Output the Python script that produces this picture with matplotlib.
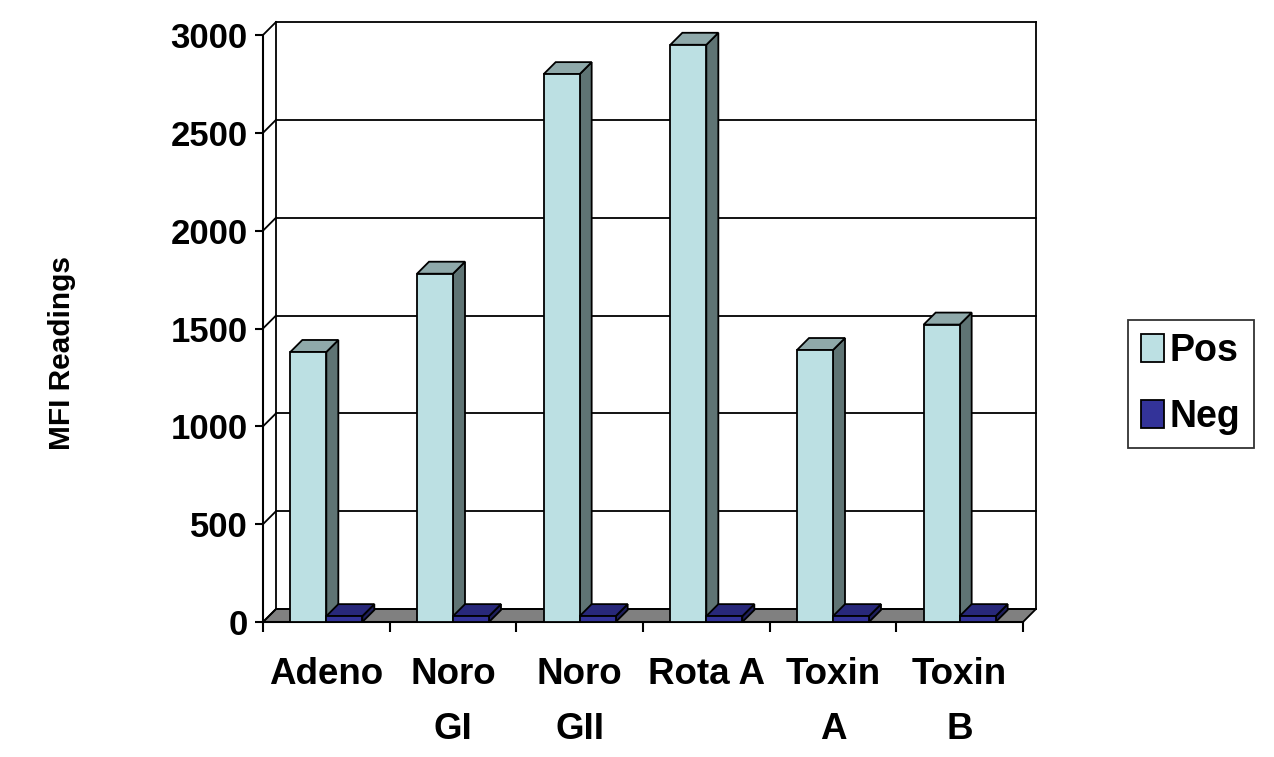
import numpy as np
import matplotlib
matplotlib.use('Agg')
import matplotlib.pyplot as plt
from matplotlib.patches import Polygon, Patch

plt.rcParams['font.family'] = ['Liberation Sans', 'DejaVu Sans']
plt.rcParams['font.weight'] = 'bold'

categories = ['Adeno', 'Noro\nGI', 'Noro\nGII', 'Rota A', 'Toxin\nA', 'Toxin\nB']
pos = [1380, 1780, 2800, 2950, 1390, 1520]
neg = [30, 30, 30, 30, 30, 30]
yticks = [0, 500, 1000, 1500, 2000, 2500, 3000]

pos_colors = ('#bce0e3', '#8fa9aa', '#5f7474')   # front, top, side
neg_colors = ('#333399', '#28287a', '#1e1e5c')
floor_color = '#808080'

W, H = 1274, 757
fig = plt.figure(figsize=(W / 100, H / 100), dpi=100)
# front plane of the plot in pixels
left, right, bottom, top = 263, 1023, 622, 35
ax = fig.add_axes([left / W, 1 - bottom / H, (right - left) / W, (bottom - top) / H])
ax.set_xlim(-0.5, 5.5)
ax.set_ylim(0, 3000)

px_x = (right - left) / 6.0       # pixels per category
px_y = (bottom - top) / 3000.0    # pixels per unit
DX, DY = 13 / px_x, 13 / px_y     # wall depth
BX, BY = 12 / px_x, 12 / px_y     # bar depth
bw = 36 / px_x

ax.spines['top'].set_visible(False)
ax.spines['right'].set_visible(False)
for s in ('left', 'bottom'):
    ax.spines[s].set_linewidth(1.5)
ax.set_yticks(yticks)
ax.set_yticklabels([str(t) for t in yticks], fontsize=25, fontweight='bold')
ax.tick_params(axis='y', direction='out', length=6, width=1.5, pad=5)
ax.set_xticks(np.arange(-0.5, 6, 1.0))
ax.set_xticklabels([])
ax.tick_params(axis='x', direction='out', length=7, width=1.5)

kw = dict(clip_on=False, lw=1.3, color='black')
x0, x1 = -0.5, 5.5
# floor
ax.add_patch(Polygon([(x0, 0), (x1, 0), (x1 + DX, DY), (x0 + DX, DY)],
                     closed=True, facecolor=floor_color, edgecolor='black',
                     lw=1.3, clip_on=False, zorder=1))
# back wall gridlines and side-wall connectors
for v in yticks:
    ax.plot([x0 + DX, x1 + DX], [v + DY, v + DY], zorder=1.5, **kw)
    ax.plot([x0, x0 + DX], [v, v + DY], zorder=1.5, **kw)
ax.plot([x0 + DX, x0 + DX], [DY, 3000 + DY], zorder=1.5, **kw)
ax.plot([x1 + DX, x1 + DX], [DY, 3000 + DY], zorder=1.5, **kw)


def box(xl, h, cols, z):
    xr = xl + bw
    ax.add_patch(Polygon([(xr, 0), (xr + BX, BY), (xr + BX, h + BY), (xr, h)],
                         closed=True, facecolor=cols[2], edgecolor='black',
                         lw=1.3, clip_on=False, zorder=z))
    ax.add_patch(Polygon([(xl, h), (xr, h), (xr + BX, h + BY), (xl + BX, h + BY)],
                         closed=True, facecolor=cols[1], edgecolor='black',
                         lw=1.3, clip_on=False, zorder=z))
    ax.bar(xl, h, width=bw, align='edge', color=cols[0], edgecolor='black',
           lw=1.3, clip_on=False, zorder=z + 0.1)


xs = np.arange(len(categories))
for i, x in enumerate(xs):
    box(x - bw, pos[i], pos_colors, 3 + i)
    box(x, neg[i], neg_colors, 3.5 + i)

for x, lab in zip(xs, categories):
    ax.text(x, -180, lab, ha='center', va='top', fontsize=26.5,
            fontweight='bold', linespacing=1.75, clip_on=False)

fig.text(62 / W, 1 - 353 / H, 'MFI Readings', rotation=90, ha='center',
         va='center', fontsize=21.5, fontweight='bold')

handles = [Patch(facecolor=pos_colors[0], edgecolor='black', lw=1.3, label='Pos'),
           Patch(facecolor=neg_colors[0], edgecolor='black', lw=1.3, label='Neg')]
leg = fig.legend(handles=handles, loc='center left',
                 bbox_to_anchor=(1128 / W, 1 - 384 / H),
                 prop={'size': 27, 'weight': 'bold'}, frameon=True,
                 fancybox=False, edgecolor='black', handlelength=0.62,
                 handleheight=0.8, handletextpad=0.15, labelspacing=0.8,
                 borderpad=0.35, borderaxespad=0)
leg.get_frame().set_linewidth(1.3)

fig.savefig('out.png', dpi=100)
